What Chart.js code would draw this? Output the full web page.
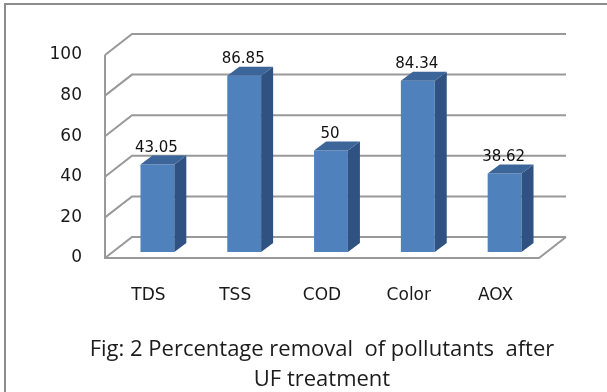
<!DOCTYPE html>
<html>
<head>
<meta charset="utf-8">
<script src="https://cdn.jsdelivr.net/npm/chart.js@4.4.0/dist/chart.umd.min.js"></script>
<style>
  html, body { margin: 0; padding: 0; background: #fff; overflow: hidden; }
  #frame { position: absolute; left: 4px; top: 3px; width: 800px; height: 600px; border: 2px solid #8c8c8c; }
  #chart { position: absolute; left: 0; top: 0; }
  #caption {
    position: absolute; left: 0; top: 332px; width: 644px;
    font-family: "Open Sans", sans-serif; font-size: 22px; line-height: 30px;
    text-align: center; color: #1c1c1c; white-space: pre;
  }
</style>
</head>
<body>
<div id="frame"></div>
<canvas id="chart" width="607" height="392"></canvas>
<div id="caption">Fig: 2 Percentage removal  of pollutants  after
UF treatment</div>
<script>
var pollutants = ['TDS', 'TSS', 'COD', 'Color', 'AOX'];
var removal = [43.05, 86.85, 50, 84.34, 38.62];
var yTicks = [0, 20, 40, 60, 80, 100];

// oblique offsets for the fake 3d look
var wall = { dx: 27, dy: -21 };
var barShift = { dx: 9, dy: -6 };
var barDepth = { dx: 12, dy: -9 };

var box3d = {
    id: 'box3d',
    beforeDatasetsDraw: function(chart) {
        var ctx = chart.ctx;
        var area = chart.chartArea;
        var y = chart.scales.y;

        ctx.save();
        ctx.strokeStyle = '#999999';
        ctx.lineWidth = 2;
        ctx.lineJoin = 'miter';

        // side wall edge + floor front edge
        ctx.beginPath();
        ctx.moveTo(area.left, y.getPixelForValue(100));
        ctx.lineTo(area.left, area.bottom);
        ctx.lineTo(area.right, area.bottom);
        ctx.lineTo(area.right + wall.dx, area.bottom + wall.dy);
        ctx.stroke();

        // gridlines running up the side wall and along the back wall
        yTicks.forEach(function(v) {
            var py = y.getPixelForValue(v);
            ctx.beginPath();
            ctx.moveTo(area.left, py);
            ctx.lineTo(area.left + wall.dx, py + wall.dy);
            ctx.lineTo(area.right + wall.dx, py + wall.dy);
            ctx.stroke();
        });
        ctx.restore();

        ctx.save();
        ctx.translate(barShift.dx, barShift.dy);
    },
    afterDatasetsDraw: function(chart) {
        var ctx = chart.ctx;
        var meta = chart.getDatasetMeta(0);

        meta.data.forEach(function(bar, i) {
            var p = bar.getProps(['x', 'y', 'base', 'width'], true);
            var x0 = p.x - p.width / 2;
            var x1 = p.x + p.width / 2;

            // right side
            ctx.fillStyle = '#2f5282';
            ctx.beginPath();
            ctx.moveTo(x1, p.y);
            ctx.lineTo(x1 + barDepth.dx, p.y + barDepth.dy);
            ctx.lineTo(x1 + barDepth.dx, p.base + barDepth.dy);
            ctx.lineTo(x1, p.base);
            ctx.closePath();
            ctx.fill();

            // top
            ctx.fillStyle = '#3c6699';
            ctx.beginPath();
            ctx.moveTo(x0, p.y);
            ctx.lineTo(x1, p.y);
            ctx.lineTo(x1 + barDepth.dx, p.y + barDepth.dy);
            ctx.lineTo(x0 + barDepth.dx, p.y + barDepth.dy);
            ctx.closePath();
            ctx.fill();

            // value label
            ctx.fillStyle = '#111';
            ctx.font = '15px "DejaVu Sans"';
            ctx.textAlign = 'center';
            ctx.textBaseline = 'alphabetic';
            ctx.fillText(String(removal[i]), p.x - 1, p.y - 13);
        });

        ctx.restore();
    }
};

var chart = new Chart(document.getElementById('chart'), {
    type: 'bar',
    data: {
        labels: pollutants,
        datasets: [{
            data: removal,
            backgroundColor: '#4f81bd',
            borderWidth: 0,
            barPercentage: 0.39,
            categoryPercentage: 1
        }]
    },
    options: {
        responsive: false,
        animation: false,
        layout: { padding: { top: 55, right: 68, left: 0, bottom: 0 } },
        plugins: {
            legend: { display: false },
            tooltip: { enabled: false }
        },
        scales: {
            y: {
                min: 0,
                max: 100,
                afterFit: function(s) { s.width = 105; },
                afterBuildTicks: function(s) {
                    s.ticks = yTicks.map(function(v) { return { value: v }; });
                },
                ticks: {
                    color: '#1a1a1a',
                    padding: 23,
                    font: { family: 'DejaVu Sans', size: 17 }
                },
                grid: { display: false, drawTicks: false },
                border: { display: false }
            },
            x: {
                afterFit: function(s) { s.height = 134; },
                ticks: {
                    color: '#1a1a1a',
                    padding: 27,
                    font: { family: 'DejaVu Sans', size: 17 }
                },
                grid: { display: false, drawTicks: false },
                border: { display: false }
            }
        }
    },
    plugins: [box3d]
});
</script>
</body>
</html>
